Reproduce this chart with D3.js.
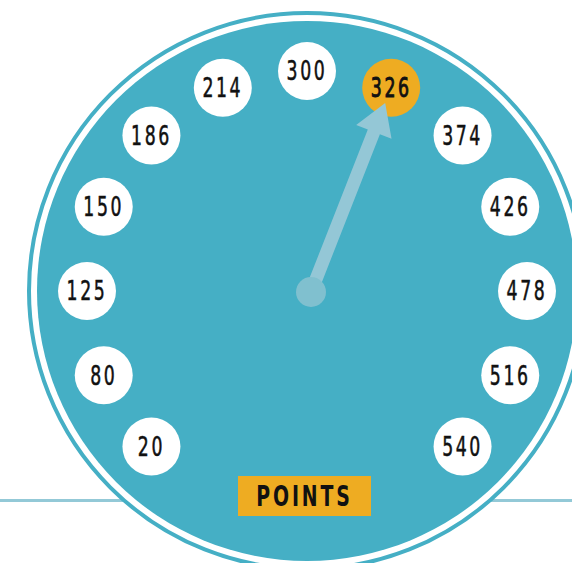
<!DOCTYPE html>
<html>
<head>
<meta charset="utf-8">
<script src="https://cdn.jsdelivr.net/npm/d3@7"></script>
<style>
  html, body { margin: 0; padding: 0; background: #ffffff; }
  svg { display: block; }
</style>
</head>
<body>
<svg id="chart" width="572" height="563"></svg>
<script>
// ---- data ----
const tickLabels = ["20", "80", "125", "150", "186", "214", "300", "326", "374", "426", "478", "516", "540"];
const currentValue = "326";
const unitLabel = ["POINTS"];

// ---- layout ----
const W = 572, H = 563;
const cx = 307, cy = 291;
const hub = { x: 311, y: 292 };
const svg = d3.select("#chart");

const teal = "#45afc5", orange = "#eeac22";
const font = "'DejaVu Sans Condensed', 'DejaVu Sans', sans-serif";

// angle scale (degrees, clockwise from top)
const angle = d3.scalePoint().domain(tickLabels).range([-135, 135]);
const bubbleR = 220;
const pos = d => {
  const a = angle(d) * Math.PI / 180;
  return [cx + bubbleR * Math.sin(a), cy - bubbleR * Math.cos(a)];
};

// background horizontal line
svg.append("line")
  .attr("x1", 0).attr("x2", W).attr("y1", 500.5).attr("y2", 500.5)
  .attr("stroke", "#93c9d7").attr("stroke-width", 3);

// outer ring + dial
svg.append("circle").attr("cx", cx).attr("cy", cy).attr("r", 278)
  .attr("fill", "#ffffff").attr("stroke", teal).attr("stroke-width", 4);
svg.append("circle").attr("cx", cx).attr("cy", cy).attr("r", 270)
  .attr("fill", teal);

// bubbles
const g = svg.append("g").selectAll("g").data(tickLabels).join("g")
  .attr("transform", d => `translate(${pos(d)[0]},${pos(d)[1]})`);
g.append("circle").attr("r", 29)
  .attr("fill", d => d === currentValue ? orange : "#ffffff");
g.append("text")
  .attr("transform", "scale(0.74,1)")
  .attr("text-anchor", "middle").attr("dy", "0.36em")
  .attr("font-family", font).attr("font-size", 26)
  .attr("letter-spacing", 3.5)
  .attr("fill", "#111")
  .attr("stroke", "#111")
  .attr("stroke-width", d => d === currentValue ? 0.9 : 0.5)
  .text(d => d);

// needle
const target = pos(currentValue);
const dirA = Math.atan2(target[0] - hub.x, -(target[1] - hub.y));
const needleLen = 203, headLen = 31, headHalf = 19, shaftHalf = 6.5;
const needle = svg.append("g")
  .attr("transform", `translate(${hub.x},${hub.y}) rotate(${dirA * 180 / Math.PI})`);
needle.append("path")
  .attr("d", `M${-shaftHalf},0 L${-shaftHalf},${-(needleLen - headLen)} L${-headHalf},${-(needleLen - headLen)} L0,${-needleLen} L${headHalf},${-(needleLen - headLen)} L${shaftHalf},${-(needleLen - headLen)} L${shaftHalf},0 Z`)
  .attr("fill", "#94c7d6");
svg.append("circle").attr("cx", hub.x).attr("cy", hub.y).attr("r", 15)
  .attr("fill", "#80c0cf");

// unit label
const lab = svg.append("g").attr("transform", "translate(304.5,496)");
lab.append("rect").attr("x", -66.5).attr("y", -20).attr("width", 133).attr("height", 40)
  .attr("fill", orange);
lab.selectAll("text").data(unitLabel).join("text")
  .attr("transform", "scale(0.75,1)")
  .attr("text-anchor", "middle").attr("dy", "0.36em")
  .attr("font-family", font).attr("font-size", 28).attr("font-weight", "bold")
  .attr("letter-spacing", 3.8)
  .attr("fill", "#111")
  .text(d => d);
</script>
</body>
</html>
